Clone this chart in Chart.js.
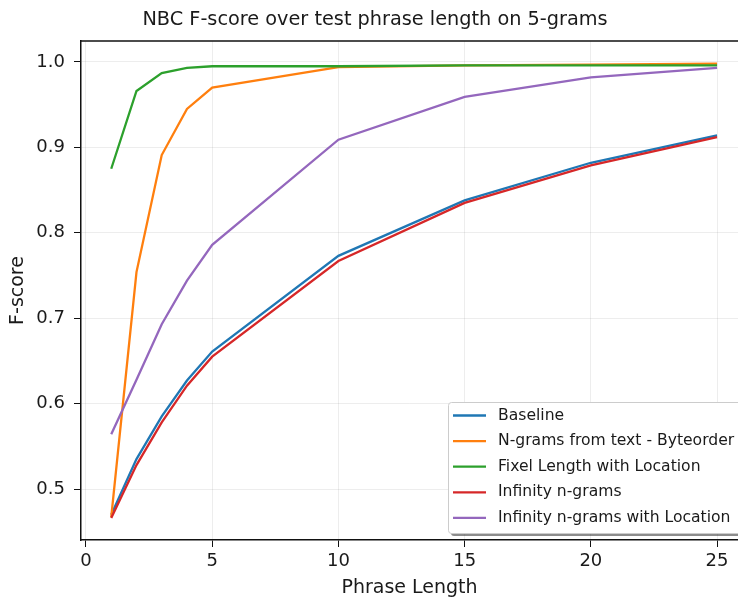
<!DOCTYPE html>
<html lang="en">
<head>
    <meta charset="UTF-8">
    <title>NBC F-score over test phrase length on 5-grams</title>
    <script src="https://cdn.jsdelivr.net/npm/chart.js"></script>
    <style>
        html, body {
            margin: 0;
            padding: 0;
            background: #fff;
            overflow: hidden;
        }
        #chartContainer {
            width: 738px;
            height: 599px;
        }
    </style>
</head>
<body>
    <div id="chartContainer">
        <canvas id="myChart" width="738" height="599"></canvas>
    </div>
    <script>
        const phraseLengths = [1, 2, 3, 4, 5, 10, 15, 20, 25];
        const baseline      = [0.470, 0.535, 0.585, 0.627, 0.661, 0.773, 0.838, 0.882, 0.914];
        const ngramsText    = [0.467, 0.754, 0.891, 0.945, 0.970, 0.994, 0.996, 0.997, 0.998];
        const fixelLength   = [0.875, 0.966, 0.987, 0.993, 0.995, 0.995, 0.996, 0.996, 0.996];
        const infinity      = [0.466, 0.528, 0.578, 0.621, 0.655, 0.767, 0.835, 0.879, 0.912];
        const infinityLoc   = [0.564, 0.628, 0.693, 0.744, 0.786, 0.909, 0.959, 0.982, 0.993];

        const seriesNames = [
            'Baseline',
            'N-grams from text - Byteorder',
            'Fixel Length with Location',
            'Infinity n-grams',
            'Infinity n-grams with Location'
        ];
        const seriesValues = [baseline, ngramsText, fixelLength, infinity, infinityLoc];
        const colors = ['#1f77b4', '#ff7f0e', '#2ca02c', '#d62728', '#9467bd'];

        const xTicks = [0, 5, 10, 15, 20, 25];
        const yTicks = [0.5, 0.6, 0.7, 0.8, 0.9, 1.0];

        const FONT = 'DejaVu Sans';
        const TEXT = '#1a1a1a';

        // top spine (matplotlib box) - no right spine, it's cut off
        const frame = {
            id: 'frame',
            afterDatasetsDraw(chart) {
                const { ctx, chartArea } = chart;
                ctx.save();
                ctx.strokeStyle = '#111';
                ctx.lineWidth = 1.5;
                ctx.beginPath();
                ctx.moveTo(chartArea.left, chartArea.top);
                ctx.lineTo(chartArea.right + 2, chartArea.top);
                ctx.stroke();
                ctx.restore();
            }
        };

        // legend box in lower right corner, like loc='lower right'
        const boxLegend = {
            id: 'boxLegend',
            afterDraw(chart) {
                const { ctx, chartArea } = chart;
                const bx = chartArea.right - 290;
                const by = chartArea.bottom - 138;
                const bw = 310;
                const bh = 131;
                ctx.save();
                // shadow
                ctx.fillStyle = 'rgba(0,0,0,0.45)';
                ctx.beginPath();
                ctx.roundRect(bx + 3, by + 3, bw, bh, 3);
                ctx.fill();
                ctx.fillStyle = '#fff';
                ctx.strokeStyle = '#cccccc';
                ctx.lineWidth = 1;
                ctx.beginPath();
                ctx.roundRect(bx + 0.5, by + 0.5, bw, bh, 3);
                ctx.fill();
                ctx.stroke();

                ctx.font = '15.6px "' + FONT + '"';
                ctx.textBaseline = 'middle';
                ctx.fillStyle = TEXT;
                seriesNames.forEach((name, i) => {
                    const ry = by + 13.5 + i * 25.6;
                    ctx.strokeStyle = colors[i];
                    ctx.lineWidth = 2.3;
                    ctx.beginPath();
                    ctx.moveTo(bx + 5, ry);
                    ctx.lineTo(bx + 38, ry);
                    ctx.stroke();
                    ctx.fillText(name, bx + 50, ry);
                });
                ctx.restore();
            }
        };

        const ctx = document.getElementById('myChart').getContext('2d');

        new Chart(ctx, {
            type: 'line',
            data: {
                datasets: seriesNames.map((name, i) => ({
                    label: name,
                    data: phraseLengths.map((x, j) => ({ x: x, y: seriesValues[i][j] })),
                    borderColor: colors[i],
                    backgroundColor: colors[i],
                    borderWidth: 2.3,
                    pointRadius: 0,
                    fill: false,
                    tension: 0,
                    order: seriesNames.length - i
                }))
            },
            options: {
                responsive: false,
                animation: false,
                // left padding pushes the title centre right a bit, like the original
                layout: { padding: { left: 12, right: 0, top: 0, bottom: 0 } },
                plugins: {
                    legend: { display: false },
                    tooltip: { enabled: false },
                    title: {
                        display: true,
                        text: 'NBC F-score over test phrase length on 5-grams',
                        color: TEXT,
                        font: { family: FONT, size: 19.3, weight: 'normal' },
                        padding: { top: 8, bottom: 9.8 }
                    }
                },
                scales: {
                    x: {
                        type: 'linear',
                        min: -0.198,
                        max: 25.83,
                        afterBuildTicks: s => { s.ticks = xTicks.map(v => ({ value: v })); },
                        afterFit: s => { s.height = 59; },
                        ticks: {
                            color: TEXT,
                            font: { family: FONT, size: 18 },
                            padding: 4,
                            maxRotation: 0
                        },
                        grid: {
                            color: 'rgba(0,0,0,0.07)',
                            tickColor: '#111',
                            tickLength: 7,
                            drawTicks: true
                        },
                        border: { color: '#111', width: 1.5 },
                        title: {
                            display: true,
                            text: 'Phrase Length',
                            color: TEXT,
                            font: { family: FONT, size: 19 },
                            padding: { top: 0, bottom: 0 }
                        }
                    },
                    y: {
                        type: 'linear',
                        min: 0.4403,
                        max: 1.0246,
                        afterBuildTicks: s => { s.ticks = yTicks.map(v => ({ value: v })); },
                        afterFit: s => { s.width = 69; },
                        ticks: {
                            color: TEXT,
                            font: { family: FONT, size: 18 },
                            padding: 9,
                            callback: v => v.toFixed(1)
                        },
                        grid: {
                            color: 'rgba(0,0,0,0.07)',
                            tickColor: '#111',
                            tickLength: 7,
                            drawTicks: true
                        },
                        border: { color: '#111', width: 1.5 },
                        title: {
                            display: true,
                            text: 'F-score',
                            color: TEXT,
                            font: { family: FONT, size: 19 },
                            padding: { top: -5, bottom: 0 }
                        }
                    }
                }
            },
            plugins: [frame, boxLegend]
        });
    </script>
</body>
</html>
